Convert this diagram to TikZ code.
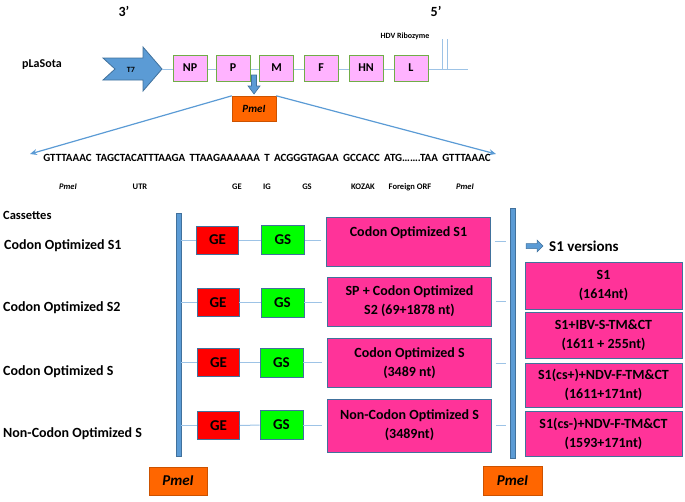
\documentclass[tikz,border=0pt]{standalone}
\usepackage{fontspec}
\setmainfont{Carlito}
\usetikzlibrary{arrows.meta}
\definecolor{bluefill}{HTML}{5B9BD5}
\definecolor{blueedge}{HTML}{41719C}
\definecolor{lightline}{HTML}{9DC3E6}
\definecolor{genefill}{HTML}{FFB3FF}
\definecolor{geneedge}{HTML}{70AD47}
\definecolor{hotpink}{HTML}{FF3399}
\definecolor{orangebox}{HTML}{FF6600}
\definecolor{gsgreen}{HTML}{00FF00}
\definecolor{gered}{HTML}{FF0000}
\tikzset{
  lbl/.style={font=\bfseries\fontsize{14}{17}\selectfont, anchor=west, inner sep=0pt},
  gene/.style={draw=geneedge, line width=1pt, fill=genefill, minimum width=34pt, minimum height=26pt, inner sep=0pt, font=\bfseries\fontsize{12}{14}\selectfont},
  gebox/.style={draw=blueedge, line width=0.8pt, fill=gered, minimum width=42pt, minimum height=28pt, inner sep=0pt, font=\bfseries\fontsize{15}{18}\selectfont},
  gsbox/.style={draw=blueedge, line width=0.8pt, fill=gsgreen, minimum width=43pt, minimum height=29pt, inner sep=0pt, font=\bfseries\fontsize{15}{18}\selectfont},
  pinkbox/.style={draw=blueedge, line width=0.8pt, fill=hotpink, minimum width=164pt, minimum height=49pt, inner sep=0pt, align=center, font=\bfseries\fontsize{14}{19}\selectfont},
  verbox/.style={draw=blueedge, line width=0.8pt, fill=hotpink, minimum width=157pt, inner sep=0pt, align=center, font=\bfseries\fontsize{14}{19}\selectfont},
  pmebox/.style={draw=orangebox!80!black, line width=0.4pt, fill=orangebox, inner sep=0pt, font=\bfseries\itshape},
  bar/.style={draw=blueedge, line width=0.6pt, fill=bluefill, minimum width=5pt, inner sep=0pt},
  thin/.style={draw=lightline, line width=1pt},
  seqline/.style={draw=bluefill, line width=1.2pt},
  small/.style={font=\bfseries\fontsize{8.5}{10}\selectfont, inner sep=0pt},
}
\begin{document}
\begin{tikzpicture}[x=1pt,y=-1pt]
\useasboundingbox (0,0) rectangle (685,501);
% top
\node[font=\bfseries\fontsize{14}{16}\selectfont, inner sep=0pt] (p3) at (124,11) {3’};
\node[font=\bfseries\fontsize{14}{16}\selectfont, inner sep=0pt] (p5) at (436,11) {5’};
\node[font=\bfseries\fontsize{8}{10}\selectfont, inner sep=0pt] (hdv) at (405,36) {HDV Ribozyme};
\node[font=\bfseries\fontsize{12}{14}\selectfont, anchor=west, inner sep=0pt] (plasota) at (22,65) {pLaSota};
% T7 arrow
\draw[draw=blueedge, fill=bluefill, line width=0.8pt] (103,58) -- (143,58) -- (143,47) -- (162,69) -- (143,91) -- (143,80) -- (103,80) -- (115,69) -- cycle;
\node[font=\bfseries\fontsize{8}{10}\selectfont, inner sep=0pt] (t7) at (131,70) {T7};
\coordinate (t7tip) at (162,69);
\coordinate (lineend) at (468,69);
\coordinate (hdva) at (442,39);
\coordinate (hdvb) at (447,39);
\draw[thin] (t7tip) -- (lineend);
\draw[thin] (hdva) -- (hdva |- lineend);
\draw[thin] (hdvb) -- (hdvb |- lineend);
\node[gene] (NP) at (190,68) {NP};
\node[gene] (P) at (233,68) {P};
\node[gene] (M) at (276.5,68) {M};
\node[gene] (F) at (321,68) {F};
\node[gene] (HN) at (366,68) {HN};
\node[gene] (L) at (411,68) {L};
% PmeI top
\node[pmebox, minimum width=44pt, minimum height=25pt, font=\bfseries\itshape\fontsize{11}{13}\selectfont] (pmetop) at (254,108.5) {PmeI};
\coordinate (darrow) at (254,75);
\draw[draw=blueedge, fill=bluefill, line width=0.6pt] (251.5,75) -- (256.5,75) -- (256.5,86) -- (260,86) -- (254,94) -- (248,86) -- (251.5,86) -- cycle;
\coordinate (seqL) at (30,154);
\coordinate (seqR) at (496,154);
\draw[seqline, -{Stealth[length=7pt,width=6pt]}] (pmetop.north west) -- (seqL);
\draw[seqline, -{Stealth[length=7pt,width=6pt]}] (pmetop.north east) -- (seqR);
\node[font=\bfseries\fontsize{11}{13}\selectfont, inner sep=0pt] (seq) at (267,158) {GTTTAAAC\, TAGCTACATTTAAGA\, TTAAGAAAAAA\, T\, ACGGGTAGAA\, GCCACC\, ATG…….TAA\, GTTTAAAC};
% labels row
\node[small, font=\bfseries\itshape\fontsize{8.5}{10}\selectfont] (l1) at (68,187) {PmeI};
\node[small] (l2) at (140,187) {UTR};
\node[small] (l3) at (237,187) {GE};
\node[small] (l4) at (267,187) {IG};
\node[small] (l5) at (307,187) {GS};
\node[small] (l6) at (363,187) {KOZAK};
\node[small] (l7) at (410,187) {Foreign ORF};
\node[small, font=\bfseries\itshape\fontsize{8.5}{10}\selectfont] (l8) at (465,187) {PmeI};
% cassettes
\node[font=\bfseries\fontsize{12.5}{15}\selectfont, anchor=west, inner sep=0pt] (cas) at (3,215) {Cassettes};
\node[lbl] (r1) at (4,246) {Codon Optimized S1};
\node[lbl] (r2) at (3,308) {Codon Optimized S2};
\node[lbl] (r3) at (3,372) {Codon Optimized S};
\node[lbl] (r4) at (3,434) {Non-Codon Optimized S};
% bars
\node[bar, minimum height=243pt] (lbar) at (178.5,334.5) {};
\node[bar, minimum height=250pt] (rbar) at (512.5,333) {};
% rows
\node[gebox] (ge1) at (217.5,240) {GE};
\node[gsbox] (gs1) at (283,240) {GS};
\node[pinkbox] (pk1) at (408.5,241.5) {Codon Optimized S1\\[1pt]\mbox{}};
\node[gebox] (ge2) at (218,302.5) {GE};
\node[gsbox] (gs2) at (282.5,302.5) {GS};
\node[pinkbox] (pk2) at (409.5,301.5) {SP + Codon Optimized\\S2 (69+1878 nt)};
\node[gebox] (ge3) at (218.5,362.5) {GE};
\node[gsbox] (gs3) at (281.5,362.5) {GS};
\node[pinkbox] (pk3) at (409.5,363) {Codon Optimized S\\(3489 nt)};
\node[gebox] (ge4) at (218.5,425.5) {GE};
\node[gsbox] (gs4) at (281.5,425) {GS};
\node[pinkbox, minimum height=53pt] (pk4) at (409.5,425.5) {Non-Codon Optimized S\\(3489nt)};
\foreach \i in {1,2,3,4}{
  \draw[thin] (lbar.east |- ge\i.west) -- (ge\i.west);
  \draw[thin] (ge\i.east) -- (gs\i.west);
  \draw[thin, shorten >=5pt] (gs\i.east) -- (gs\i.east -| pk\i.west);
  \draw[thin, shorten <=4pt, shorten >=4pt] (pk\i.east) -- (pk\i.east -| rbar.west);
}
% S1 versions
\draw[draw=blueedge, fill=bluefill, line width=0.5pt] (526,243.5) -- (537,243.5) -- (537,240) -- (543,246) -- (537,252) -- (537,248.5) -- (526,248.5) -- cycle;
\coordinate (s1arrow) at (543,246);
\node[font=\bfseries\fontsize{15}{18}\selectfont, anchor=west, inner sep=0pt] (s1v) at (549,246) {S1 versions};
\node[verbox, minimum height=47pt] (v1) at (603.5,285.5) {S1\\(1614nt)};
\node[verbox, minimum height=46pt] (v2) at (603.5,335) {S1+IBV-S-TM\&CT\\(1611 + 255nt)};
\node[verbox, minimum height=44pt] (v3) at (603.5,385) {S1(cs+)+NDV-F-TM\&CT\\(1611+171nt)};
\node[verbox, minimum height=45pt] (v4) at (603.5,433.5) {S1(cs-)+NDV-F-TM\&CT\\(1593+171nt)};
% bottom PmeI
\node[pmebox, minimum width=58pt, minimum height=28pt, font=\bfseries\itshape\fontsize{15}{18}\selectfont] (pmeb1) at (178,481) {PmeI};
\node[pmebox, minimum width=59pt, minimum height=29pt, font=\bfseries\itshape\fontsize{15}{18}\selectfont] (pmeb2) at (512.5,480.5) {PmeI};
\end{tikzpicture}
\end{document}
